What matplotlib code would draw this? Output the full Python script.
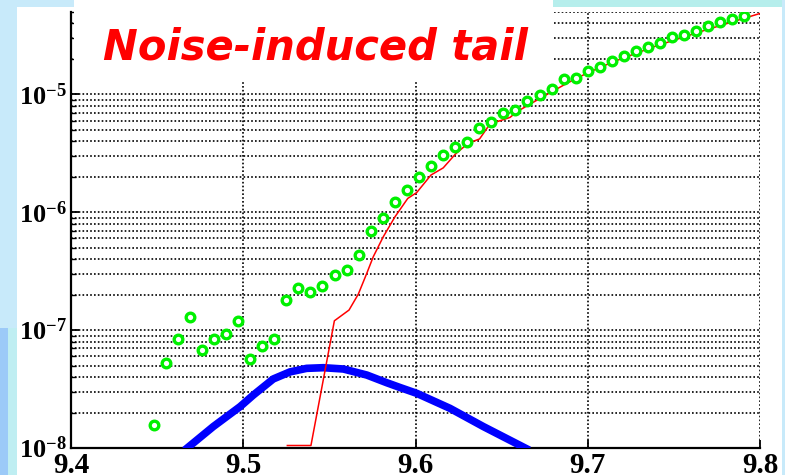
import numpy as np
import matplotlib
matplotlib.use("Agg")
import matplotlib.pyplot as plt
from matplotlib.patches import Rectangle
from matplotlib.ticker import LogLocator, NullFormatter, FixedLocator

# green circles: simulated tail
x_sim = [9.448, 9.455, 9.462, 9.469, 9.476, 9.483, 9.490, 9.497, 9.504, 9.511,
         9.518, 9.525, 9.532, 9.539, 9.546, 9.553, 9.560, 9.567, 9.574, 9.581,
         9.588, 9.595, 9.602, 9.609, 9.616, 9.623, 9.630, 9.637, 9.644, 9.651,
         9.658, 9.665, 9.672, 9.679, 9.686, 9.693, 9.700, 9.707, 9.714, 9.721,
         9.728, 9.735, 9.742, 9.749, 9.756, 9.763, 9.770, 9.777, 9.784, 9.791]
y_sim = [1.57e-8, 5.23e-8, 8.46e-8, 1.30e-7, 6.82e-8, 8.46e-8, 9.27e-8, 1.20e-7, 5.72e-8, 7.33e-8,
         8.46e-8, 1.79e-7, 2.27e-7, 2.11e-7, 2.37e-7, 2.93e-7, 3.23e-7, 4.34e-7, 6.89e-7, 8.88e-7,
         1.23e-6, 1.54e-6, 2.00e-6, 2.46e-6, 3.07e-6, 3.57e-6, 3.94e-6, 5.23e-6, 5.87e-6, 6.90e-6,
         7.36e-6, 8.78e-6, 9.87e-6, 1.11e-5, 1.34e-5, 1.39e-5, 1.59e-5, 1.71e-5, 1.93e-5, 2.11e-5,
         2.33e-5, 2.53e-5, 2.71e-5, 3.04e-5, 3.20e-5, 3.46e-5, 3.82e-5, 4.13e-5, 4.35e-5, 4.61e-5]

# red line
x_red = [9.5256, 9.5393, 9.5529, 9.5552, 9.5614, 9.5668, 9.5717, 9.5755, 9.5813, 9.5881,
         9.5955, 9.6007, 9.6090, 9.6161, 9.6232, 9.6305, 9.6372, 9.6432, 9.6549, 9.6588,
         9.6723, 9.6878, 9.6994, 9.7148, 9.7381, 9.7652, 9.8000]
y_red = [1.05e-8, 1.05e-8, 1.20e-7, 1.27e-7, 1.48e-7, 2.02e-7, 3.03e-7, 4.20e-7, 6.20e-7, 9.16e-7,
         1.31e-6, 1.47e-6, 2.07e-6, 2.38e-6, 3.12e-6, 3.84e-6, 4.19e-6, 5.60e-6, 6.38e-6, 7.12e-6,
         9.25e-6, 1.24e-5, 1.51e-5, 1.89e-5, 2.53e-5, 3.40e-5, 4.86e-5]

# blue curve
x_blue = [9.4660, 9.4826, 9.4981, 9.5058, 9.5174, 9.5271, 9.5368, 9.5465, 9.5581, 9.5717,
          9.5833, 9.5910, 9.6007, 9.6200, 9.6394, 9.6660]
y_blue = [9.6e-9, 1.52e-8, 2.24e-8, 2.81e-8, 3.85e-8, 4.42e-8, 4.74e-8, 4.80e-8, 4.68e-8, 4.16e-8,
          3.58e-8, 3.26e-8, 2.91e-8, 2.17e-8, 1.52e-8, 9.6e-9]

x_ticks = [9.4, 9.5, 9.6, 9.7, 9.8]
x_labels = ["9.4", "9.5", "9.6", "9.7", "9.8"]
y_ticks = [1e-8, 1e-7, 1e-6, 1e-5]
y_labels = [r"$10^{-8}$", r"$10^{-7}$", r"$10^{-6}$", r"$10^{-5}$"]
title = "Noise-induced tail"

plt.rcParams["mathtext.fontset"] = "custom"
plt.rcParams["mathtext.rm"] = "Liberation Serif:bold"
plt.rcParams["mathtext.it"] = "Liberation Serif:bold"
plt.rcParams["mathtext.bf"] = "Liberation Serif:bold"

W, H = 785, 475
fig = plt.figure(figsize=(W / 100, H / 100), dpi=100, facecolor="white")


def px_rect(x0, y0, x1, y1, color, z=-1):
    r = Rectangle((x0 / W, 1 - y1 / H), (x1 - x0) / W, (y1 - y0) / H,
                  transform=fig.transFigure, facecolor=color, edgecolor="none", zorder=z)
    fig.add_artist(r)


# slide background bits
px_rect(0, 0, 74, 7, "#c8eafa")
px_rect(553, 0, 785, 7, "#b6eeec")
px_rect(0, 0, 17, 328, "#c8eafa")
px_rect(0, 328, 8, 475, "#9ccaf8")
px_rect(8, 328, 17, 475, "#bfeef2")
px_rect(782, 0, 785, 475, "#c8eafa")

ax = fig.add_axes([71 / W, 1 - 448 / H, (760 - 71) / W, (448 - 12) / H])
ax.set_facecolor("white")

ax.plot(x_blue, y_blue, color="#0000ff", lw=5.5, solid_capstyle="butt", zorder=3)
ax.plot(x_red, y_red, color="#ff0000", lw=1.1, zorder=4)
ax.plot(x_sim, y_sim, linestyle="none", marker="o", ms=6.2, mew=2.4,
        mec="#00f000", mfc="white", zorder=5)

ax.set_yscale("log")
ax.set_xlim(9.4, 9.8)
ax.set_ylim(1e-8, 5e-5)

ax.xaxis.set_major_locator(FixedLocator(x_ticks))
ax.set_xticklabels(x_labels, fontfamily="Liberation Serif", fontweight="bold", fontsize=21)
ax.yaxis.set_major_locator(FixedLocator(y_ticks))
ax.set_yticklabels(y_labels, fontsize=19)
ax.yaxis.set_minor_locator(LogLocator(base=10, subs=np.arange(2, 10)))
ax.yaxis.set_minor_formatter(NullFormatter())

ax.tick_params(axis="both", which="major", direction="in", length=6, width=1.3, color="black")
ax.tick_params(axis="y", which="minor", direction="in", length=3.5, width=1.0)
ax.tick_params(axis="x", which="major", pad=3)
ax.tick_params(axis="y", which="major", pad=3)

ax.grid(True, which="major", axis="x", color="black", linestyle=(0, (1, 1.3)), lw=1.2)
ax.grid(True, which="both", axis="y", color="black", linestyle=(0, (1, 1.3)), lw=1.2)
ax.set_axisbelow(True)

for s in ["top", "right"]:
    ax.spines[s].set_visible(False)
for s in ["left", "bottom"]:
    ax.spines[s].set_linewidth(1.6)

# white box behind the title
px_rect(74, 0, 553, 82, "white", z=2)
fig.text(103 / W, 1 - 60 / H, title, color="#ff0000", fontsize=30,
         fontweight="bold", fontstyle="italic", fontfamily="DejaVu Sans",
         ha="left", va="baseline", zorder=3)

fig.savefig("out.png", dpi=100)
